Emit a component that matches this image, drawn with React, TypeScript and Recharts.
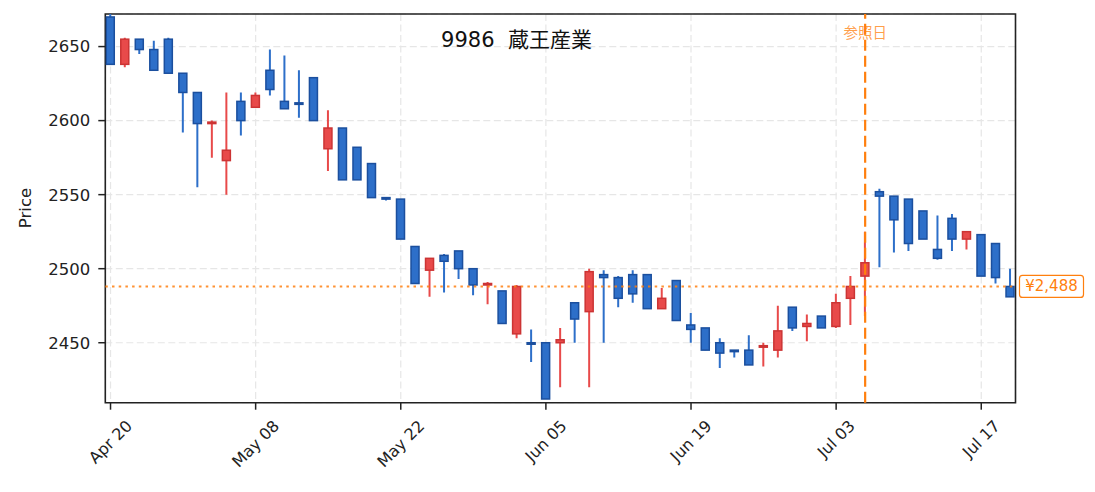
import React from 'react';
import {
  ComposedChart, Bar, XAxis, YAxis, CartesianGrid, ReferenceLine, ReferenceArea, Customized,
} from 'recharts';

const dates = [
  'Apr 20', 'Apr 21', 'Apr 22', 'Apr 23', 'Apr 24', 'Apr 27', 'Apr 28', 'Apr 30',
  'May 01', 'May 07', 'May 08', 'May 11', 'May 12', 'May 13', 'May 14', 'May 15',
  'May 18', 'May 19', 'May 20', 'May 21', 'May 22', 'May 25', 'May 26', 'May 27',
  'May 28', 'May 29', 'Jun 01', 'Jun 02', 'Jun 03', 'Jun 04', 'Jun 05', 'Jun 08',
  'Jun 09', 'Jun 10', 'Jun 11', 'Jun 12', 'Jun 15', 'Jun 16', 'Jun 17', 'Jun 18',
  'Jun 19', 'Jun 22', 'Jun 23', 'Jun 24', 'Jun 25', 'Jun 26', 'Jun 29', 'Jun 30',
  'Jul 01', 'Jul 02', 'Jul 03', 'Jul 06', 'Jul 07', 'Jul 08', 'Jul 09', 'Jul 10',
  'Jul 13', 'Jul 14', 'Jul 15', 'Jul 16', 'Jul 17', 'Jul 20', 'Jul 21',
];

const opens = [
  2670, 2638, 2655, 2648, 2655, 2632, 2619, 2598, 2573, 2613, 2609, 2634, 2613, 2612, 2629, 2581,
  2595, 2582, 2571, 2548, 2547, 2515, 2499, 2509, 2512, 2500, 2489, 2485, 2456, 2450, 2450, 2450,
  2477, 2471, 2496, 2494, 2496, 2496, 2473, 2492, 2462, 2460, 2450, 2445, 2445, 2447, 2445, 2474,
  2461, 2468, 2461, 2480, 2495, 2552, 2549, 2547, 2539, 2513, 2534, 2520, 2523, 2517, 2488,
];
const highs = [
  2672, 2656, 2655, 2654, 2656, 2632, 2619, 2600, 2619, 2619, 2619, 2648, 2644, 2634, 2629, 2607,
  2595, 2582, 2571, 2548, 2547, 2515, 2507, 2510, 2512, 2500, 2491, 2485, 2489, 2459, 2450, 2460,
  2477, 2500, 2499, 2495, 2499, 2496, 2487, 2492, 2470, 2460, 2453, 2445, 2455, 2450, 2475, 2474,
  2469, 2468, 2483, 2495, 2525, 2554, 2549, 2547, 2539, 2536, 2537, 2525, 2523, 2517, 2500,
];
const lows = [
  2638, 2636, 2645, 2634, 2632, 2592, 2555, 2575, 2550, 2590, 2609, 2617, 2608, 2602, 2600, 2566,
  2560, 2560, 2548, 2546, 2520, 2490, 2481, 2484, 2493, 2482, 2476, 2463, 2453, 2437, 2412, 2420,
  2450, 2420, 2450, 2474, 2477, 2473, 2473, 2465, 2450, 2445, 2433, 2440, 2435, 2434, 2440, 2458,
  2451, 2460, 2460, 2462, 2468, 2501, 2511, 2512, 2520, 2506, 2512, 2513, 2495, 2490, 2481,
];
const closes = [
  2638, 2655, 2648, 2634, 2632, 2619, 2598, 2599, 2580, 2600, 2617, 2621, 2608, 2611, 2600, 2595,
  2560, 2560, 2548, 2547, 2520, 2490, 2507, 2505, 2500, 2489, 2490, 2463, 2488, 2449, 2412, 2452,
  2466, 2498, 2494, 2480, 2483, 2473, 2480, 2465, 2459, 2445, 2443, 2444, 2435, 2448, 2458, 2460,
  2463, 2460, 2477, 2488, 2504, 2549, 2533, 2517, 2520, 2507, 2520, 2525, 2495, 2494, 2481,
];

const xTicks = [0, 10, 20, 30, 40, 50, 60];
const yTicks = [2450, 2500, 2550, 2600, 2650];
const refIndex = 52;
const refPrice = 2488;
const refPriceLabel = '¥2,488';
const refDateLabel = '参照日';
const title = '9986  蔵王産業';
const yLabel = 'Price';

const X_MIN = -0.36;
const X_MAX = 62.36;
const Y_MIN = 2409.5;
const Y_MAX = 2672;

const FONT = '"DejaVu Sans", "Noto Sans CJK JP", sans-serif';
const TICK_FS = 16.5;
const ORANGE = '#ff7f0e';

const candles = dates.map((d, i) => ({
  i, date: d, open: opens[i], high: highs[i], low: lows[i], close: closes[i],
}));

let ctx: CanvasRenderingContext2D | null = null;
function measure(t: string, fs: number) {
  if (!ctx) ctx = document.createElement('canvas').getContext('2d');
  if (!ctx) return t.length * fs * 0.6;
  ctx.font = `${fs}px ${FONT}`;
  return ctx.measureText(t).width;
}

const Candle = (props: any) => {
  const { x, y, width, height, payload } = props;
  if (!payload) return null;
  const { open, close, high, low } = payload;
  const up = close >= open;
  const ppu = height / Math.max(high - low, 1e-6);
  const cx = x + width / 2;
  const bodyTop = y + (high - Math.max(open, close)) * ppu;
  const bodyBot = y + (high - Math.min(open, close)) * ppu;
  const bh = Math.max(bodyBot - bodyTop, 1.5);
  const fill = up ? '#e84a4a' : '#2d6fc9';
  const edge = up ? '#cc3434' : '#1b4f9e';
  const bw = 8;
  return (
    <g>
      <line x1={cx} x2={cx} y1={y} y2={y + height} stroke={fill} strokeWidth={2} />
      <rect x={cx - bw / 2} y={bodyTop} width={bw} height={bh} fill={fill} stroke={edge} strokeWidth={1.5} />
    </g>
  );
};

const XTick = (props: any) => {
  const { x, y, payload } = props;
  const label = dates[payload.value] ?? '';
  const fs = 16;
  const L = measure(label, fs);
  const h = fs * 0.95;
  const half = (L + h) / 2 / Math.SQRT2;
  const cy = y + 6 + half;
  return (
    <text x={x} y={cy} textAnchor="middle" dominantBaseline="central" fontSize={fs}
      fontFamily={FONT} fill="#222" transform={`rotate(-45 ${x} ${cy})`}>
      {label}
    </text>
  );
};

const Texts = () => (
  <g>
    <text x={516.5} y={40} textAnchor="middle" dominantBaseline="central" fontSize={21}
      fontFamily={FONT} fill="#111" style={{ whiteSpace: 'pre' }} xmlSpace="preserve">{title}</text>
    <text x={25} y={208} textAnchor="middle" dominantBaseline="central" fontSize={16.5}
      fontFamily={FONT} fill="#222" transform="rotate(-90 25 208)">{yLabel}</text>
  </g>
);

const PriceLabel = (props: any) => {
  const vb = props.viewBox || {};
  const x0 = vb.x + vb.width + 4;
  const cy = vb.y;
  return (
    <g>
      <rect x={x0} y={cy - 11} width={64} height={22} rx={3} ry={3} fill="#fff" stroke={ORANGE} strokeWidth={1.2} />
      <text x={x0 + 32} y={cy} textAnchor="middle" dominantBaseline="central" fontSize={15}
        fontFamily={FONT} fill={ORANGE}>{refPriceLabel}</text>
    </g>
  );
};

const DateLabel = (props: any) => {
  const vb = props.viewBox || {};
  return (
    <text x={vb.x} y={vb.y + 19} textAnchor="middle" dominantBaseline="central" fontSize={14.5}
      fontFamily={FONT} fill={ORANGE} fillOpacity={0.75}>{refDateLabel}</text>
  );
};

export default function App() {
  return (
    <div style={{ position: 'absolute', left: 0, top: 0, width: 1095, height: 492, background: '#fff' }}>
      <ComposedChart width={1095} height={492} data={candles}
        margin={{ top: 14, right: 79.5, bottom: 9.3, left: 35.3 }}>
        <CartesianGrid stroke="#e6e6e6" strokeDasharray="7 3.5" strokeWidth={1.2} />
        <XAxis dataKey="i" type="number" domain={[X_MIN, X_MAX]} allowDataOverflow ticks={xTicks}
          interval={0} height={80} axisLine={false} tickSize={7}
          tickLine={{ stroke: '#222', strokeWidth: 1.5 }} tick={<XTick />} />
        <YAxis type="number" domain={[Y_MIN, Y_MAX]} allowDataOverflow ticks={yTicks} width={70}
          interval={0} axisLine={false} tickSize={7} tickMargin={8}
          tickLine={{ stroke: '#222', strokeWidth: 1.5 }}
          tick={{ fontSize: TICK_FS, fontFamily: FONT, fill: '#222' }} />
        <Bar dataKey={(d: any) => [d.low, d.high]} barSize={10} shape={<Candle />} isAnimationActive={false} />
        <ReferenceLine y={refPrice} stroke={ORANGE} strokeOpacity={0.85} strokeWidth={2}
          strokeDasharray="2.5 4.2" label={<PriceLabel />} ifOverflow="visible" />
        <ReferenceLine x={refIndex} stroke={ORANGE} strokeWidth={2.2} strokeDasharray="11 5"
          label={<DateLabel />} />
        <ReferenceArea x1={X_MIN} x2={X_MAX} y1={Y_MIN} y2={Y_MAX} fill="none" fillOpacity={0}
          stroke="#222" strokeWidth={1.6} ifOverflow="visible" />
        <Customized component={Texts} />
      </ComposedChart>
    </div>
  );
}
